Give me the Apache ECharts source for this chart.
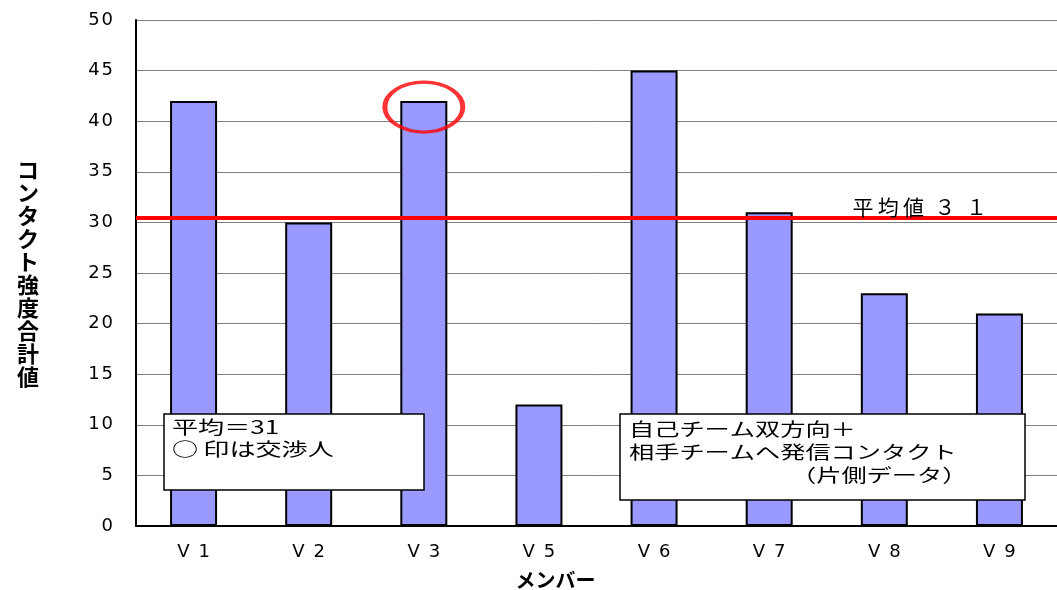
<!DOCTYPE html>
<html>
<head>
<meta charset="utf-8">
<script src="https://cdn.jsdelivr.net/npm/echarts@6/dist/echarts.min.js"></script>
<style>
  html, body { margin: 0; padding: 0; background: #fff; overflow: hidden; }
  #chart { width: 1057px; height: 590px; }
</style>
</head>
<body>
<div id="chart"></div>
<script>
// メンバー別コンタクト強度
const members = ['V1', 'V2', 'V3', 'V5', 'V6', 'V7', 'V8', 'V9']
const contactTotals = [42, 30, 42, 12, 45, 31, 23, 21]
const averageLine = 30.5
const negotiator = ['V3', 41.4]   // ○印の位置
const yTicks = { min: 0, max: 50, interval: 5 }

const latin = '"DejaVu Sans", Arial, sans-serif'
const jp = '"Noto Sans CJK JP", sans-serif'
const boxFont = '18px "Noto Sans CJK JP"'

const chart = echarts.init(document.getElementById('chart'))

const option = {
  animation: false,
  backgroundColor: '#fff',
  grid: { left: 136, top: 20, right: 0, bottom: 64, outerBoundsMode: 'none', containLabel: false },
  xAxis: {
    type: 'category',
    data: members,
    name: 'メンバー',
    nameLocation: 'middle',
    nameGap: 44,
    nameTextStyle: { fontFamily: jp, fontWeight: 'bold', fontSize: 20, color: '#000', padding: [0, 82, 0, 0] },
    axisLine: { lineStyle: { color: '#000', width: 2 } },
    axisTick: { inside: true, length: 5, lineStyle: { color: '#000' } },
    axisLabel: {
      fontFamily: latin, fontSize: 18, color: '#000', margin: 17,
      formatter: v => v.split('').join('\u2002')
    },
    splitLine: { show: false }
  },
  yAxis: {
    type: 'value',
    min: yTicks.min,
    max: yTicks.max,
    interval: yTicks.interval,
    name: 'コ\nン\nタ\nク\nト\n強\n度\n合\n計\n値',
    nameLocation: 'middle',
    nameGap: 97,
    nameRotate: 0,
    nameTextStyle: { fontFamily: jp, fontWeight: 'bold', fontSize: 22, lineHeight: 23, color: '#000', padding: [30, 0, 0, 0] },
    axisLine: { show: true, lineStyle: { color: '#000', width: 2 } },
    axisTick: { show: false },
    axisLabel: {
      fontFamily: latin, fontSize: 18, color: '#000', margin: 23,
      formatter: v => String(v).split('').join('\u200a')
    },
    splitLine: { lineStyle: { color: '#808080', width: 1 } }
  },
  series: [
    {
      name: 'コンタクト強度合計値',
      type: 'bar',
      data: contactTotals,
      barWidth: 47,
      itemStyle: { color: '#9999ff', borderColor: '#000', borderWidth: 2 },
      markLine: {
        symbol: 'none',
        silent: true,
        lineStyle: { color: '#ff0000', width: 4, type: 'solid' },
        label: {
          position: 'insideEndTop',
          formatter: '平\u2009均\u2009値\u2002３\u2002１',
          fontFamily: jp,
          fontSize: 21,
          color: '#000',
          padding: [0, 70, 0, 0],
          distance: 0
        },
        data: [{ yAxis: averageLine }]
      },
      z: 2
    },
    {
      name: '交渉人',
      type: 'scatter',
      data: [negotiator],
      symbol: 'circle',
      symbolSize: [78, 50],
      itemStyle: { color: 'rgba(0,0,0,0)', borderColor: '#ff0000', borderWidth: 4 },
      silent: true,
      z: 5
    }
  ],
  graphic: [
    { type: 'rect', z: 100, shape: { x: 164, y: 414, width: 260, height: 76 },
      style: { fill: '#fff', stroke: '#000', lineWidth: 1.5 } },
    { type: 'text', z: 101, x: 172, y: 416, scaleX: 1.45,
      style: { text: '平均＝31\n○\u2009印は交渉人', font: boxFont, lineHeight: 22, fill: '#000' } },
    { type: 'rect', z: 100, shape: { x: 620, y: 414, width: 405, height: 86 },
      style: { fill: '#fff', stroke: '#000', lineWidth: 1.5 } },
    { type: 'text', z: 101, x: 629, y: 418, scaleX: 1.4,
      style: { text: '自己チーム双方向＋\n相手チームへ発信コンタクト', font: boxFont, lineHeight: 23, fill: '#000' } },
    { type: 'text', z: 101, x: 791, y: 464, scaleX: 1.4,
      style: { text: '（片側データ）', font: boxFont, lineHeight: 23, fill: '#000' } }
  ]
}

chart.setOption(option)
</script>
</body>
</html>
